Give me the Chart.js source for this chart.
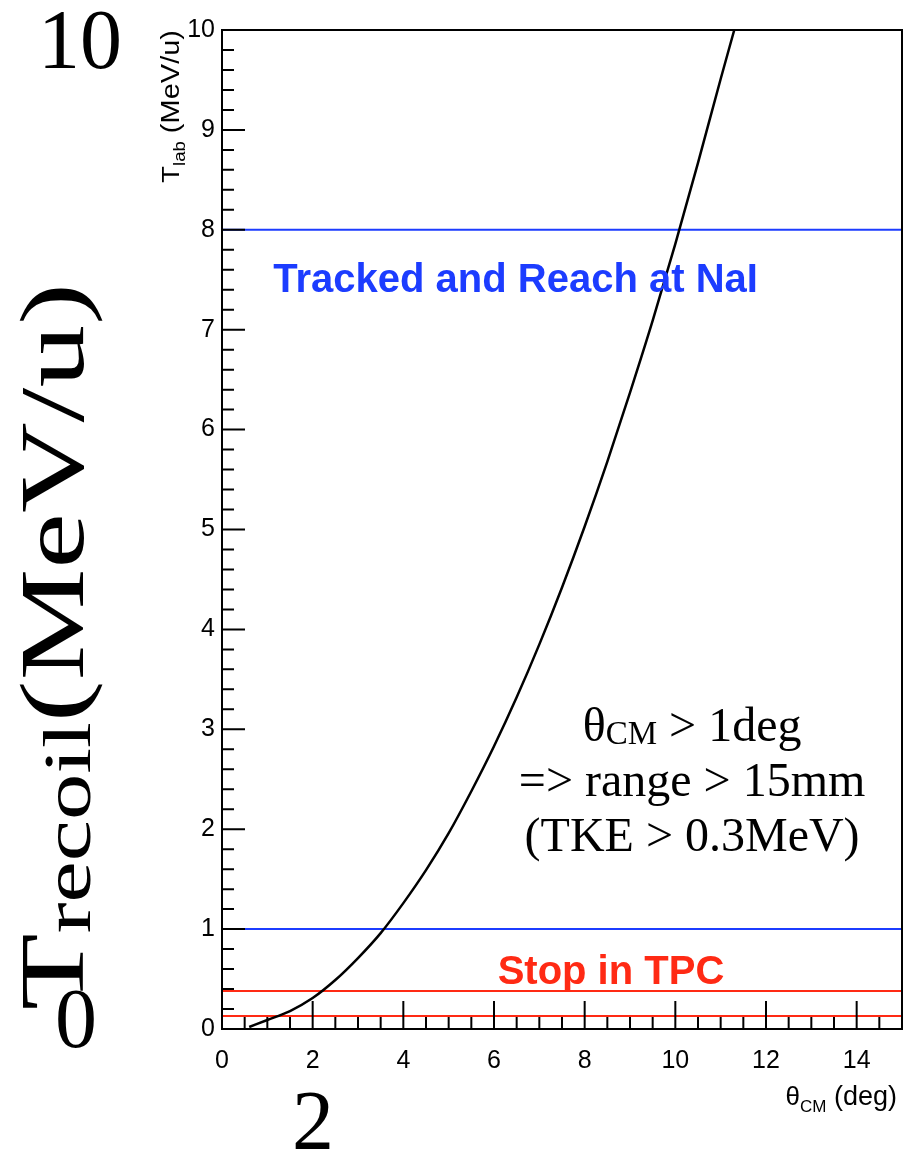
<!DOCTYPE html>
<html><head><meta charset="utf-8">
<script src="https://cdn.jsdelivr.net/npm/chart.js@4.4.0/dist/chart.umd.min.js"></script>
<style>html,body{margin:0;padding:0;background:#fff;overflow:hidden}canvas{display:block}</style>
</head><body>
<canvas id="c" width="903" height="1156"></canvas>
<script>
// ---- data ----
const thetaCM = [0.6, 1.0, 1.5, 2.0, 2.5, 3.0, 3.5, 4.0, 4.5, 5.0, 5.5, 6.0, 6.5, 7.0, 7.5, 8.0, 8.5, 9.0, 9.5, 10.0, 10.5, 11.0, 11.3];
const tLab    = [0.02, 0.09, 0.18, 0.31, 0.49, 0.71, 0.96, 1.26, 1.59, 1.96, 2.38, 2.83, 3.32, 3.85, 4.42, 5.03, 5.68, 6.37, 7.09, 7.86, 8.67, 9.51, 10.0];
const trackedLimit = 8.0;
const trackedLowLimit = 1.0;
const stopHighLimit = 0.38;
const stopLowLimit = 0.13;
const xTickValues = [0, 2, 4, 6, 8, 10, 12, 14];
const xTickLabels = ['0', '2', '4', '6', '8', '10', '12', '14'];
const yTickValues = [0, 1, 2, 3, 4, 5, 6, 7, 8, 9, 10];
const yTickLabels = ['0', '1', '2', '3', '4', '5', '6', '7', '8', '9', '10'];
const xRange = [0, 15];
const yRange = [0, 10];

const SANS = '"Liberation Sans", Arial, Helvetica, sans-serif';
const SERIF = '"Liberation Serif", "Times New Roman", serif';
const BLUE = '#1c3cff';
const RED = '#ff2a14';

function hline(v, color) {
  return { data: [{x: xRange[0], y: v}, {x: xRange[1], y: v}], borderColor: color, borderWidth: 2, pointRadius: 0, tension: 0 };
}

function measureRuns(ctx, runs) {
  let total = 0;
  runs.forEach(r => { ctx.font = r.font; r.w = ctx.measureText(r.text).width; total += r.w; });
  return total;
}
function drawRuns(ctx, runs, x, y, align) {
  const total = measureRuns(ctx, runs);
  let cx = align === 'right' ? x - total : (align === 'center' ? x - total / 2 : x);
  ctx.textAlign = 'left';
  ctx.textBaseline = 'alphabetic';
  runs.forEach(r => { ctx.font = r.font; ctx.fillText(r.text, cx, y + (r.dy || 0)); cx += r.w; });
}

const framePlugin = {
  id: 'frameTicks',
  afterDatasetsDraw(chart) {
    const {ctx, chartArea: a, scales: {x, y}} = chart;
    ctx.save();
    ctx.strokeStyle = '#000';
    ctx.lineWidth = 2;
    ctx.beginPath();
    for (let i = 0; i <= 30; i++) {
      const v = i * 0.5;
      const px = x.getPixelForValue(v);
      const len = (i % 4 === 0) ? 28 : 12;
      ctx.moveTo(px, a.bottom); ctx.lineTo(px, a.bottom - len);
    }
    for (let i = 0; i <= 50; i++) {
      const v = i * 0.2;
      const py = y.getPixelForValue(v);
      const len = (i % 5 === 0) ? 23 : 12;
      ctx.moveTo(a.left, py); ctx.lineTo(a.left + len, py);
    }
    ctx.stroke();
    ctx.strokeRect(a.left, a.top, a.right - a.left, a.bottom - a.top);
    ctx.restore();
  },
  afterDraw(chart) {
    const {ctx, scales: {x, y}} = chart;
    ctx.save();
    // in-plot labels
    ctx.fillStyle = BLUE;
    ctx.font = 'bold 40px ' + SANS;
    ctx.textAlign = 'left'; ctx.textBaseline = 'alphabetic';
    ctx.fillText('Tracked and Reach at NaI', x.getPixelForValue(1.13), y.getPixelForValue(7.38));
    ctx.fillStyle = RED;
    ctx.fillText('Stop in TPC', x.getPixelForValue(6.08), y.getPixelForValue(0.45));
    ctx.fillStyle = '#000';
    const cx = x.getPixelForValue(10.37);
    drawRuns(ctx, [
      {text: '\u03B8', font: '48px ' + SERIF},
      {text: 'CM', font: '33px ' + SERIF, dy: 3},
      {text: ' > 1deg', font: '48px ' + SERIF}
    ], cx, y.getPixelForValue(2.88), 'center');
    drawRuns(ctx, [{text: '=> range > 15mm', font: '48px ' + SERIF}], cx, y.getPixelForValue(2.33), 'center');
    drawRuns(ctx, [{text: '(TKE > 0.3MeV)', font: '48px ' + SERIF}], cx, y.getPixelForValue(1.78), 'center');

    // axis titles
    drawRuns(ctx, [
      {text: '\u03B8', font: '26px ' + SANS},
      {text: 'CM', font: '17px ' + SANS, dy: 7},
      {text: ' (deg)', font: '27px ' + SANS}
    ], 897, 1105, 'right');
    ctx.save();
    ctx.translate(179, 30);
    ctx.rotate(-Math.PI / 2);
    const yt = [
      {text: 'T', font: '24px ' + SANS},
      {text: 'lab', font: '16px ' + SANS, dy: 6},
      {text: ' (MeV/u)', font: '25px ' + SANS}
    ];
    const ytw = measureRuns(ctx, yt);
    ctx.scale(153 / ytw, 1);
    drawRuns(ctx, yt, 0, 0, 'right');
    ctx.restore();

    // big overlay labels
    ctx.textAlign = 'center'; ctx.textBaseline = 'alphabetic';
    ctx.font = '84px ' + SERIF;
    ctx.fillText('10', 80, 68);
    ctx.fillText('0', 76, 1047);
    ctx.fillText('2', 313, 1149);
    ctx.save();
    ctx.translate(83, 1010);
    ctx.rotate(-Math.PI / 2);
    const big = [
      {text: 'T', font: '92px ' + SERIF},
      {text: 'recoil', font: '68px ' + SERIF, dy: 7},
      {text: '(MeV/u)', font: '92px ' + SERIF}
    ];
    const bw = measureRuns(ctx, big);
    ctx.scale(727 / bw, 1);
    drawRuns(ctx, big, 0, 0, 'left');
    ctx.restore();
    ctx.restore();
  }
};

new Chart(document.getElementById('c'), {
  type: 'line',
  data: {
    datasets: [
      { data: thetaCM.map((v, i) => ({x: v, y: tLab[i]})), borderColor: '#000', borderWidth: 2.5, pointRadius: 0, cubicInterpolationMode: 'monotone' },
      hline(trackedLimit, BLUE),
      hline(trackedLowLimit, BLUE),
      hline(stopHighLimit, RED),
      hline(stopLowLimit, RED)
    ]
  },
  options: {
    responsive: false,
    animation: false,
    devicePixelRatio: 1,
    layout: { padding: { left: 0, right: 1, top: 30, bottom: 0 } },
    plugins: { legend: { display: false }, tooltip: { enabled: false } },
    scales: {
      x: {
        type: 'linear', min: xRange[0], max: xRange[1],
        afterFit(s) { s.height = 127; },
        afterBuildTicks(s) { s.ticks = xTickValues.map(v => ({value: v})); },
        grid: { display: false, drawTicks: false },
        border: { display: false },
        ticks: { font: { family: SANS, size: 25 }, color: '#000', padding: 17, maxRotation: 0, autoSkip: false,
          callback: (v) => xTickLabels[xTickValues.indexOf(v)] }
      },
      y: {
        type: 'linear', min: yRange[0], max: yRange[1],
        afterFit(s) { s.width = 222; },
        afterBuildTicks(s) { s.ticks = yTickValues.map(v => ({value: v})); },
        grid: { display: false, drawTicks: false },
        border: { display: false },
        ticks: { font: { family: SANS, size: 25 }, color: '#000', padding: 7, autoSkip: false,
          callback: (v) => yTickLabels[yTickValues.indexOf(v)] }
      }
    }
  },
  plugins: [framePlugin]
});
</script>
</body></html>
